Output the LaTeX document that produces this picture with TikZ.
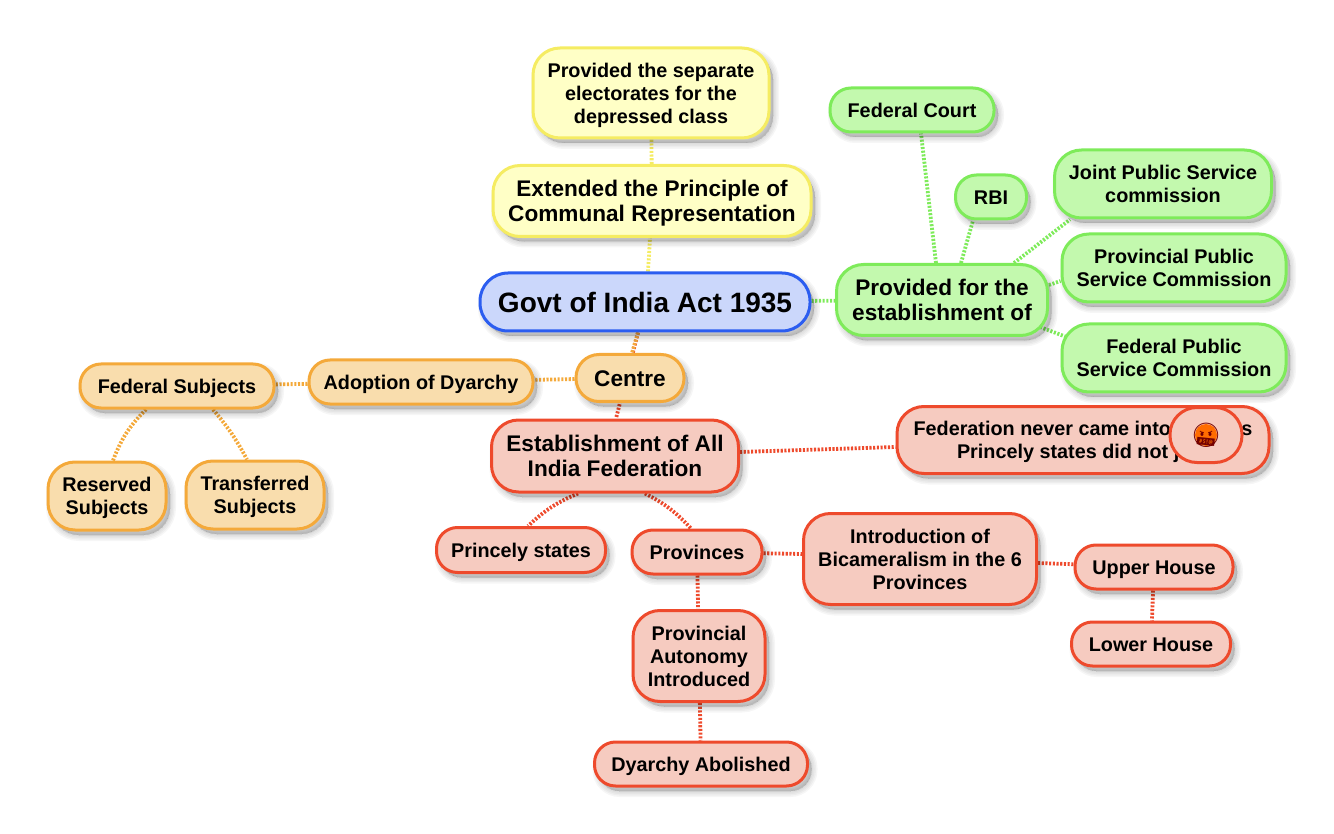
\documentclass[tikz,border=0pt]{standalone}
\usepackage{fontspec}
\setmainfont{Liberation Sans}
\newfontfamily\emojifont{Noto Emoji}
\usetikzlibrary{shadows,backgrounds}
\definecolor{rootfill}{HTML}{CBD7FB}
\definecolor{rootline}{HTML}{2B5DF0}
\definecolor{yellowfill}{HTML}{FFFFC6}
\definecolor{yellowline}{HTML}{F5EC62}
\definecolor{greenfill}{HTML}{C3F9AE}
\definecolor{greenline}{HTML}{7EEB5A}
\definecolor{orangefill}{HTML}{F9DDAD}
\definecolor{orangeline}{HTML}{F4A93A}
\definecolor{redfill}{HTML}{F6CBC0}
\definecolor{redline}{HTML}{EE4A2C}
\tikzset{
  softlayer/.style={drop shadow={shadow xshift=4pt,shadow yshift=-5pt,fill=black,draw=black,line width=#1pt,opacity=.035}},
  softshadow/.style={softlayer=12,softlayer=9,softlayer=6,softlayer=3,softlayer=0},
  topic/.style={draw,line width=3pt,rounded corners=21pt,inner sep=0pt,outer sep=1.5pt,align=flush center,
    font=\bfseries\fontsize{19.8}{23}\selectfont,softshadow,
    execute at begin node={\rule{0pt}{.93em}},execute at end node={\rule[-.21em]{0pt}{.21em}}},
  tall/.style={rounded corners=27pt},
  bigtopic/.style={topic,font=\bfseries\fontsize{22.6}{25}\selectfont},
  rootnode/.style={topic,draw=rootline,fill=rootfill,rounded corners=28pt,font=\bfseries\fontsize{28}{30}\selectfont},
  emojinode/.style={draw,line width=3pt,rounded corners=27pt,inner sep=0pt,outer sep=1.5pt,align=flush center,font=\emojifont\fontsize{24}{24}\selectfont},
  yellownode/.style={draw=yellowline,fill=yellowfill},
  greennode/.style={draw=greenline,fill=greenfill},
  orangenode/.style={draw=orangeline,fill=orangefill},
  rednode/.style={draw=redline,fill=redfill},
  size/.style n args={2}{text width=#1pt,minimum height=#2pt},
  link/.style={line width=3.8pt,dash pattern=on 2.1pt off 1.6pt},
}
\begin{document}
\begin{tikzpicture}[x=1pt,y=-1pt]
\useasboundingbox (0,0) rectangle (1334,834);
\node[rootnode,size={330}{58}] (root) at (645,302) {Govt of India Act 1935};
% yellow
\node[bigtopic,tall,yellownode,size={318}{71}] (extended) at (652,201) {Extended the Principle of\\Communal Representation};
\node[topic,tall,yellownode,size={236}{90}] (separate) at (651,93) {Provided the separate\\electorates for the\\depressed class};
% green
\node[bigtopic,tall,greennode,size={211}{71}] (provided) at (942,300) {Provided for the\\establishment of};
\node[topic,greennode,size={164}{44}] (court) at (912,110) {Federal Court};
\node[topic,greennode,size={71}{44}] (rbi) at (991,197) {RBI};
\node[topic,tall,greennode,size={217}{68}] (joint) at (1163,184) {Joint Public Service\\commission};
\node[topic,tall,greennode,size={224}{68}] (provpublic) at (1174,268) {Provincial Public\\Service Commission};
\node[topic,tall,greennode,size={224}{68}] (fedpublic) at (1174,358) {Federal Public\\Service Commission};
% orange
\node[bigtopic,rounded corners=23pt,orangenode,size={108}{47}] (centre) at (630,378) {Centre};
\node[topic,orangenode,size={224}{44}] (dyarchy) at (421,382) {Adoption of Dyarchy};
\node[topic,orangenode,size={194}{44}] (fedsubjects) at (177,386) {Federal Subjects};
\node[topic,tall,orangenode,size={118}{68}] (reserved) at (107,496) {Reserved\\Subjects};
\node[topic,tall,orangenode,size={138}{68}] (transferred) at (255,495) {Transferred\\Subjects};
% red
\node[bigtopic,tall,rednode,size={247}{72}] (federation) at (615,456) {Establishment of All\\India Federation};
\node[topic,tall,rednode,size={372}{67}] (never) at (1083,440) {Federation never came into force as\\Princely states did not join};
\node[emojinode,rednode,size={72}{55},path picture={\fill[orange!85!red] (path picture bounding box.center) circle (11pt);}] (emoji) at (1206,435) {\textcolor{red!45!black}{🤬}};
\node[topic,rednode,size={169}{45}] (princely) at (521,550) {Princely states};
\node[topic,rednode,size={130}{44}] (provinces) at (697,552) {Provinces};
\node[topic,tall,rednode,size={233}{91}] (bicameral) at (920,559) {Introduction of\\Bicameralism in the 6\\Provinces};
\node[topic,rednode,size={158}{44}] (upper) at (1154,567) {Upper House};
\node[topic,rednode,size={159}{44}] (lower) at (1151,644) {Lower House};
\node[topic,tall,rednode,size={132}{91}] (autonomy) at (699,656) {Provincial\\Autonomy\\Introduced};
\node[topic,rednode,size={213}{44}] (abolished) at (701,764) {Dyarchy Abolished};
\begin{pgfonlayer}{background}
\path[link,draw=yellowline]
([xshift=3pt]root.north) edge ([xshift=-2pt]extended.south)
(extended) edge (separate);
\path[link,draw=greenline]
(root) edge (provided)
([xshift=-6pt]provided.north) edge ([xshift=9pt]court.south)
([xshift=19pt]provided.north) edge ([xshift=-18pt]rbi.south)
([xshift=72pt]provided.north) edge ([xshift=-93pt]joint.south)
([yshift=15pt]provided.east) edge ([yshift=-13pt]provpublic.west)
([xshift=-9pt,yshift=-27pt]provided.east) edge ([xshift=6pt,yshift=21pt]fedpublic.west);
\path[link,draw=redline]
([xshift=-7pt]root.south) edge ([xshift=1pt]federation.north)
([yshift=4pt]federation.east) edge ([yshift=-7pt]never.west);
\path[link,draw=orangeline]
([xshift=-7pt]root.south) edge ([xshift=2pt]centre.north)
(centre) edge (dyarchy)
(dyarchy) edge (fedsubjects)
([xshift=-31pt]fedsubjects.south) edge[bend right=12] ([xshift=6pt]reserved.north)
([xshift=36pt]fedsubjects.south) edge[bend left=6] ([xshift=-8pt]transferred.north);
\path[link,draw=redline]
([xshift=-37pt]federation.south) edge[bend right=10] ([xshift=7pt]princely.north)
([xshift=30pt]federation.south) edge[bend left=10] ([xshift=-6pt]provinces.north)
(provinces) edge ([yshift=5pt]bicameral.west)
(bicameral) edge (upper)
(upper) edge (lower)
(provinces) edge (autonomy)
(autonomy) edge (abolished);
\end{pgfonlayer}
\end{tikzpicture}
\end{document}
